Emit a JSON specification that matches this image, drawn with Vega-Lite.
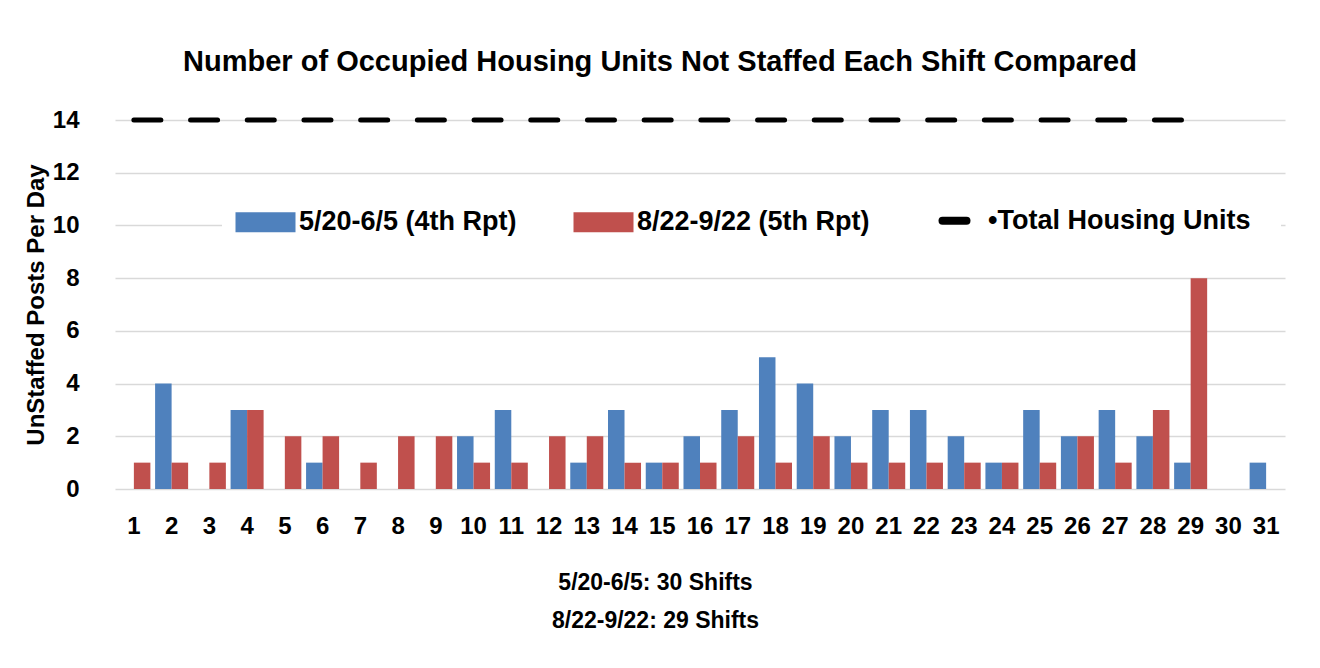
{
  "$schema": "https://vega.github.io/schema/vega-lite/v6.json",
  "autosize": "none",
  "width": 1170,
  "height": 369,
  "padding": {"left": 115, "top": 120, "right": 35, "bottom": 179},
  "background": "white",
  "config": {"view": {"stroke": null}},
  "title": {
    "text": "Number of Occupied Housing Units Not Staffed Each Shift Compared",
    "font": "Liberation Sans",
    "fontSize": 29,
    "fontWeight": "bold",
    "color": "black",
    "anchor": "middle",
    "frame": "group",
    "dx": -40,
    "offset": 8,
    "baseline": "alphabetic"
  },
  "datasets": {
    "bars": [
      {"day": 1, "series": "5/20-6/5 (4th Rpt)", "value": 0}, {"day": 1, "series": "8/22-9/22 (5th Rpt)", "value": 1},
      {"day": 2, "series": "5/20-6/5 (4th Rpt)", "value": 4}, {"day": 2, "series": "8/22-9/22 (5th Rpt)", "value": 1},
      {"day": 3, "series": "5/20-6/5 (4th Rpt)", "value": 0}, {"day": 3, "series": "8/22-9/22 (5th Rpt)", "value": 1},
      {"day": 4, "series": "5/20-6/5 (4th Rpt)", "value": 3}, {"day": 4, "series": "8/22-9/22 (5th Rpt)", "value": 3},
      {"day": 5, "series": "5/20-6/5 (4th Rpt)", "value": 0}, {"day": 5, "series": "8/22-9/22 (5th Rpt)", "value": 2},
      {"day": 6, "series": "5/20-6/5 (4th Rpt)", "value": 1}, {"day": 6, "series": "8/22-9/22 (5th Rpt)", "value": 2},
      {"day": 7, "series": "5/20-6/5 (4th Rpt)", "value": 0}, {"day": 7, "series": "8/22-9/22 (5th Rpt)", "value": 1},
      {"day": 8, "series": "5/20-6/5 (4th Rpt)", "value": 0}, {"day": 8, "series": "8/22-9/22 (5th Rpt)", "value": 2},
      {"day": 9, "series": "5/20-6/5 (4th Rpt)", "value": 0}, {"day": 9, "series": "8/22-9/22 (5th Rpt)", "value": 2},
      {"day": 10, "series": "5/20-6/5 (4th Rpt)", "value": 2}, {"day": 10, "series": "8/22-9/22 (5th Rpt)", "value": 1},
      {"day": 11, "series": "5/20-6/5 (4th Rpt)", "value": 3}, {"day": 11, "series": "8/22-9/22 (5th Rpt)", "value": 1},
      {"day": 12, "series": "5/20-6/5 (4th Rpt)", "value": 0}, {"day": 12, "series": "8/22-9/22 (5th Rpt)", "value": 2},
      {"day": 13, "series": "5/20-6/5 (4th Rpt)", "value": 1}, {"day": 13, "series": "8/22-9/22 (5th Rpt)", "value": 2},
      {"day": 14, "series": "5/20-6/5 (4th Rpt)", "value": 3}, {"day": 14, "series": "8/22-9/22 (5th Rpt)", "value": 1},
      {"day": 15, "series": "5/20-6/5 (4th Rpt)", "value": 1}, {"day": 15, "series": "8/22-9/22 (5th Rpt)", "value": 1},
      {"day": 16, "series": "5/20-6/5 (4th Rpt)", "value": 2}, {"day": 16, "series": "8/22-9/22 (5th Rpt)", "value": 1},
      {"day": 17, "series": "5/20-6/5 (4th Rpt)", "value": 3}, {"day": 17, "series": "8/22-9/22 (5th Rpt)", "value": 2},
      {"day": 18, "series": "5/20-6/5 (4th Rpt)", "value": 5}, {"day": 18, "series": "8/22-9/22 (5th Rpt)", "value": 1},
      {"day": 19, "series": "5/20-6/5 (4th Rpt)", "value": 4}, {"day": 19, "series": "8/22-9/22 (5th Rpt)", "value": 2},
      {"day": 20, "series": "5/20-6/5 (4th Rpt)", "value": 2}, {"day": 20, "series": "8/22-9/22 (5th Rpt)", "value": 1},
      {"day": 21, "series": "5/20-6/5 (4th Rpt)", "value": 3}, {"day": 21, "series": "8/22-9/22 (5th Rpt)", "value": 1},
      {"day": 22, "series": "5/20-6/5 (4th Rpt)", "value": 3}, {"day": 22, "series": "8/22-9/22 (5th Rpt)", "value": 1},
      {"day": 23, "series": "5/20-6/5 (4th Rpt)", "value": 2}, {"day": 23, "series": "8/22-9/22 (5th Rpt)", "value": 1},
      {"day": 24, "series": "5/20-6/5 (4th Rpt)", "value": 1}, {"day": 24, "series": "8/22-9/22 (5th Rpt)", "value": 1},
      {"day": 25, "series": "5/20-6/5 (4th Rpt)", "value": 3}, {"day": 25, "series": "8/22-9/22 (5th Rpt)", "value": 1},
      {"day": 26, "series": "5/20-6/5 (4th Rpt)", "value": 2}, {"day": 26, "series": "8/22-9/22 (5th Rpt)", "value": 2},
      {"day": 27, "series": "5/20-6/5 (4th Rpt)", "value": 3}, {"day": 27, "series": "8/22-9/22 (5th Rpt)", "value": 1},
      {"day": 28, "series": "5/20-6/5 (4th Rpt)", "value": 2}, {"day": 28, "series": "8/22-9/22 (5th Rpt)", "value": 3},
      {"day": 29, "series": "5/20-6/5 (4th Rpt)", "value": 1}, {"day": 29, "series": "8/22-9/22 (5th Rpt)", "value": 8},
      {"day": 30, "series": "5/20-6/5 (4th Rpt)", "value": 0}, {"day": 30, "series": "8/22-9/22 (5th Rpt)", "value": 0},
      {"day": 31, "series": "5/20-6/5 (4th Rpt)", "value": 1}
    ],
    "total": [
      {"day": 1, "series": "Total Housing Units", "value": 14}, {"day": 2, "series": "Total Housing Units", "value": 14},
      {"day": 3, "series": "Total Housing Units", "value": 14}, {"day": 4, "series": "Total Housing Units", "value": 14},
      {"day": 5, "series": "Total Housing Units", "value": 14}, {"day": 6, "series": "Total Housing Units", "value": 14},
      {"day": 7, "series": "Total Housing Units", "value": 14}, {"day": 8, "series": "Total Housing Units", "value": 14},
      {"day": 9, "series": "Total Housing Units", "value": 14}, {"day": 10, "series": "Total Housing Units", "value": 14},
      {"day": 11, "series": "Total Housing Units", "value": 14}, {"day": 12, "series": "Total Housing Units", "value": 14},
      {"day": 13, "series": "Total Housing Units", "value": 14}, {"day": 14, "series": "Total Housing Units", "value": 14},
      {"day": 15, "series": "Total Housing Units", "value": 14}, {"day": 16, "series": "Total Housing Units", "value": 14},
      {"day": 17, "series": "Total Housing Units", "value": 14}, {"day": 18, "series": "Total Housing Units", "value": 14},
      {"day": 19, "series": "Total Housing Units", "value": 14}, {"day": 20, "series": "Total Housing Units", "value": 14},
      {"day": 21, "series": "Total Housing Units", "value": 14}, {"day": 22, "series": "Total Housing Units", "value": 14},
      {"day": 23, "series": "Total Housing Units", "value": 14}, {"day": 24, "series": "Total Housing Units", "value": 14},
      {"day": 25, "series": "Total Housing Units", "value": 14}, {"day": 26, "series": "Total Housing Units", "value": 14},
      {"day": 27, "series": "Total Housing Units", "value": 14}, {"day": 28, "series": "Total Housing Units", "value": 14},
      {"day": 29, "series": "Total Housing Units", "value": 14}
    ]
  },
  "encoding": {
    "x": {
      "field": "day",
      "type": "ordinal",
      "scale": {"domain": [1,2,3,4,5,6,7,8,9,10,11,12,13,14,15,16,17,18,19,20,21,22,23,24,25,26,27,28,29,30,31], "paddingInner": 0.125, "paddingOuter": 0.0625},
      "axis": {
        "labelAngle": 0,
        "labelFont": "Liberation Sans",
        "labelFontWeight": "bold",
        "labelFontSize": 24,
        "labelColor": "black",
        "labelPadding": 25,
        "ticks": false,
        "domain": false,
        "grid": false,
        "title": ["5/20-6/5: 30 Shifts", "8/22-9/22: 29 Shifts"],
        "titleFont": "Liberation Sans",
        "titleFontWeight": "bold",
        "titleFontSize": 23,
        "titleColor": "black",
        "titleLineHeight": 38,
        "titleX": 540,
        "titleY": 82,
        "titleBaseline": "top",
        "titleAnchor": "middle"
      }
    },
    "y": {
      "field": "value",
      "type": "quantitative",
      "scale": {"domain": [0, 14], "nice": false},
      "axis": {
        "values": [0, 2, 4, 6, 8, 10, 12, 14],
        "labelFont": "Liberation Sans",
        "labelFontWeight": "bold",
        "labelFontSize": 24,
        "labelColor": "black",
        "labelPadding": 36,
        "ticks": false,
        "domain": false,
        "gridColor": "#d9d9d9",
        "gridWidth": 1.5,
        "title": "UnStaffed Posts Per Day",
        "titleFont": "Liberation Sans",
        "titleFontWeight": "bold",
        "titleFontSize": 24,
        "titleColor": "black",
        "titlePadding": 4
      }
    },
    "color": {
      "field": "series",
      "type": "nominal",
      "scale": {
        "domain": ["5/20-6/5 (4th Rpt)", "8/22-9/22 (5th Rpt)", "Total Housing Units"],
        "range": ["#4F81BD", "#C0504D", "#000000"]
      },
      "legend": {
        "title": null,
        "orient": "none",
        "legendX": 107,
        "legendY": 57,
        "direction": "horizontal",
        "fillColor": "white",
        "padding": 30,
        "symbolSize": 3600,
        "labelFont": "Liberation Sans",
        "labelFontWeight": "bold",
        "labelFontSize": 27,
        "labelColor": "black",
        "labelOffset": 20,
        "labelLimit": 400,
        "columnPadding": 56,
        "labelExpr": "datum.value === 'Total Housing Units' ? '•Total Housing Units' : datum.value",
        "encode": {
          "symbols": {
            "update": {
              "shape": {"signal": "datum.value === 'Total Housing Units' ? 'stroke' : 'M-1,-0.333H1V0.333H-1Z'"},
              "size": {"signal": "datum.value === 'Total Housing Units' ? 576 : 3600"},
              "fill": {"signal": "datum.value === 'Total Housing Units' ? 'transparent' : (datum.value === '5/20-6/5 (4th Rpt)' ? '#4F81BD' : '#C0504D')"},
              "stroke": {"signal": "datum.value === 'Total Housing Units' ? 'black' : 'transparent'"},
              "strokeWidth": {"signal": "datum.value === 'Total Housing Units' ? 8 : 0"},
              "strokeCap": {"value": "round"},
              "opacity": {"value": 1}
            }
          }
        }
      }
    }
  },
  "layer": [
    {
      "data": {"name": "bars"},
      "mark": {"type": "bar"},
      "encoding": {
        "xOffset": {"field": "series", "type": "nominal", "scale": {"domain": ["5/20-6/5 (4th Rpt)", "8/22-9/22 (5th Rpt)"], "paddingInner": 0, "paddingOuter": 0}}
      }
    },
    {
      "data": {"name": "total"},
      "mark": {"type": "line", "strokeWidth": 5, "strokeDash": [27, 29.7], "strokeCap": "round"},
      "encoding": {}
    }
  ]
}
